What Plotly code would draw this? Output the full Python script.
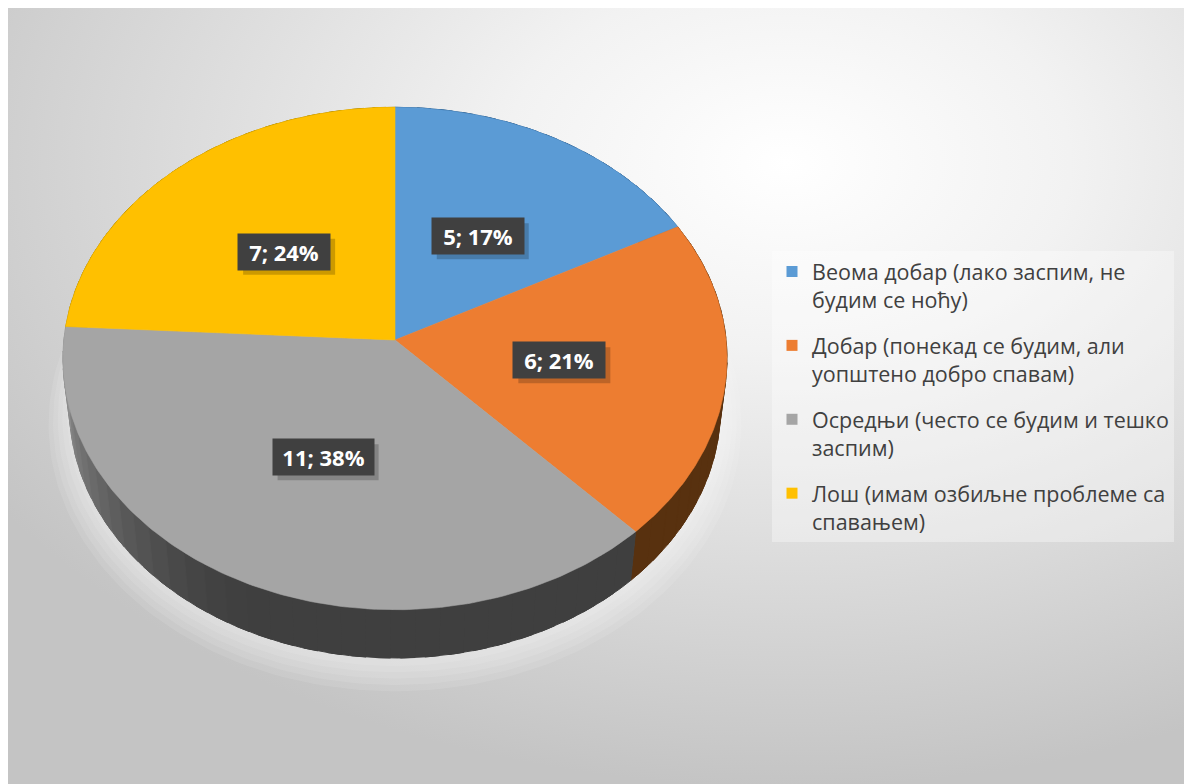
import base64
import numpy as np
import plotly.graph_objects as go

# ---- data ----
categories = [
    "Веома добар (лако заспим, не<br>будим се ноћу)",
    "Добар (понекад се будим, али<br>уопштено добро спавам)",
    "Осредњи (често се будим и тешко<br>заспим)",
    "Лош (имам озбиљне проблеме са<br>спавањем)",
]
values = [5, 6, 11, 7]
top_colors = ["#5B9BD5", "#ED7D31", "#A5A5A5", "#FFC000"]
side_dark = ["#2F5F8C", "#58310F", "#3F3F3F", "#8A6800"]
side_light = ["#4F7FAF", "#6E3E16", "#9A9A9A", "#B08A00"]

W, H = 1192, 784
OFF = 8  # page body margin: data coordinates are page pixels

# ---- 3D perspective projection of the pie (page pixels) ----
CX, CY = 395.0, 340.0
F = 2950.0
ALPHA = np.deg2rad(49.0)
S, C = np.sin(ALPHA), np.cos(ALPHA)
D = 8.91
DEPTH = 0.235


def proj(theta, r=1.0, down=0.0):
    xc = r * np.sin(theta)
    yc = r * np.cos(theta) * S - down * C
    zc = D + r * np.cos(theta) * C + down * S
    return CX + F * xc / zc, CY - F * yc / zc


def mix(c1, c2, t):
    a = [int(c1[k:k + 2], 16) for k in (1, 3, 5)]
    b = [int(c2[k:k + 2], 16) for k in (1, 3, 5)]
    return "#" + "".join(f"{int(round(a[j] + (b[j] - a[j]) * t)):02X}" for j in range(3))


total = sum(values)
fr = np.cumsum([0] + values) / total * 2 * np.pi

fig = go.Figure()

# soft light halo beneath the pie
full = np.linspace(0, 2 * np.pi, 240)
for rr, dd in [(1.07, 0.30), (1.055, 0.29), (1.04, 0.28), (1.025, 0.27), (1.01, 0.26)]:
    hx, hy = proj(full, r=rr, down=dd)
    fig.add_trace(go.Scatter(x=hx, y=hy, mode="lines", fill="toself",
                             fillcolor="rgba(255,255,255,0.10)", line=dict(width=0),
                             hoverinfo="skip", showlegend=False))

# side walls, drawn in small overlapping segments to imitate the shading
for i, v in enumerate(values):
    n = max(4, int((fr[i + 1] - fr[i]) / (2 * np.pi) * 90))
    edges = np.linspace(fr[i], fr[i + 1], n + 1)
    step = edges[1] - edges[0]
    for j in range(n):
        end = edges[j + 1] + (0.6 * step if j < n - 1 else 0)
        th = np.linspace(edges[j], end, 8)
        xt, yt = proj(th)
        xb, yb = proj(th[::-1], down=DEPTH)
        deg = np.rad2deg((edges[j] + edges[j + 1]) / 2)
        t = np.clip((deg - 205.0) / 65.0, 0, 1) ** 1.4
        col = mix(side_dark[i], side_light[i], t)
        fig.add_trace(go.Scatter(
            x=np.concatenate([xt, xb, xt[:1]]), y=np.concatenate([yt, yb, yt[:1]]),
            mode="lines", fill="toself", fillcolor=col,
            line=dict(color=col, width=1), hoverinfo="skip", showlegend=False))

# top faces
for i, v in enumerate(values):
    th = np.linspace(fr[i], fr[i + 1], 160)
    xt, yt = proj(th)
    fig.add_trace(go.Scatter(
        x=np.concatenate([[CX], xt, [CX]]), y=np.concatenate([[CY], yt, [CY]]),
        mode="lines", fill="toself", fillcolor=top_colors[i],
        line=dict(color=top_colors[i], width=0.6),
        name=categories[i], hoverinfo="name", showlegend=False))

# legend entries
for i, name in enumerate(categories):
    fig.add_trace(go.Scatter(
        x=[None], y=[None], mode="markers", name=name,
        marker=dict(symbol="square", size=11, color=top_colors[i]),
        legendgroup=str(i)))

# data labels (dark boxes with a soft drop shadow)
PAD = 4
for i, v in enumerate(values):
    mid = (fr[i] + fr[i + 1]) / 2
    lx, ly = proj(mid, r=0.5)
    txt = f"{v}; {round(100 * v / total)}%"
    tw = 9 * len(txt) + 30
    th_box = 28
    bw, bh = tw + 2 * PAD, th_box + 2 * PAD
    fig.add_shape(type="rect", x0=lx - bw / 2 + 5, x1=lx + bw / 2 + 5,
                  y0=ly - bh / 2 + 5, y1=ly + bh / 2 + 5,
                  fillcolor="rgba(0,0,0,0.2)", line=dict(width=0), layer="above")
    fig.add_annotation(x=lx, y=ly, text=f"<b>{txt}</b>", showarrow=False,
                       width=tw, height=th_box, align="center", valign="middle",
                       font=dict(family="Open Sans", size=22, color="white"),
                       bgcolor="#404040", borderpad=PAD)

svg = ("<svg xmlns='http://www.w3.org/2000/svg' width='1180' height='780' preserveAspectRatio='none'>"
       "<defs><radialGradient id='g' cx='0.66' cy='0.2' r='0.8'>"
       "<stop offset='0' stop-color='#ffffff'/><stop offset='0.3' stop-color='#f2f2f2'/>"
       "<stop offset='1' stop-color='#c4c4c4'/></radialGradient></defs>"
       "<rect width='1180' height='780' fill='url(#g)'/></svg>")
src = "data:image/svg+xml;base64," + base64.b64encode(svg.encode()).decode()

fig.update_layout(
    width=W, height=H, autosize=False,
    margin=dict(l=0, r=0, t=0, b=0),
    paper_bgcolor="white", plot_bgcolor="rgba(0,0,0,0)",
    xaxis=dict(range=[OFF, W + OFF], visible=False, fixedrange=True),
    yaxis=dict(range=[H + OFF, OFF], visible=False, fixedrange=True),
    images=[dict(source=src, xref="x", yref="y", x=OFF, y=OFF - 1,
                 sizex=1180, sizey=780, sizing="stretch", layer="below",
                 xanchor="left", yanchor="top")],
    legend=dict(x=(772 - OFF) / W, y=1 - (251 - OFF) / H, xanchor="left", yanchor="top",
                font=dict(family="Open Sans", size=21.5, color="#404040"),
                bgcolor="rgba(255,255,255,0.35)", valign="top",
                tracegroupgap=15, itemclick=False, itemdoubleclick=False),
    showlegend=True,
)

fig.write_html("out.html")
